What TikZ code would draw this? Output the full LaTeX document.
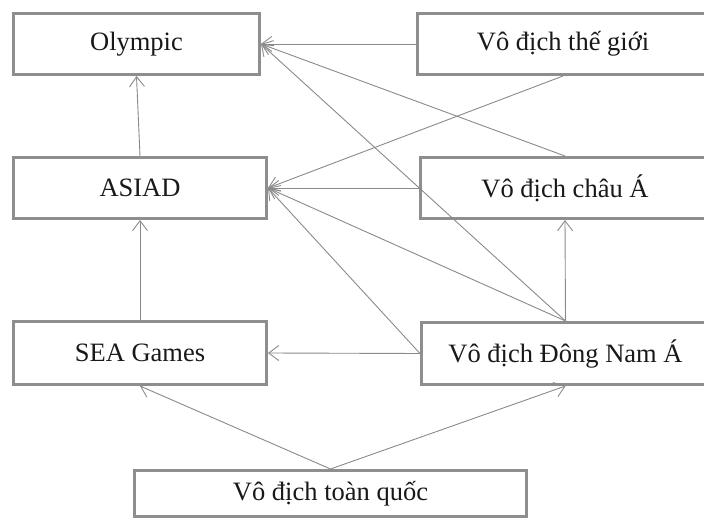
\documentclass[tikz,border=0pt]{standalone}
\usepackage{fontspec}
\setmainfont{Liberation Serif}
\usetikzlibrary{arrows.meta}
\definecolor{boxgray}{HTML}{8E8E8E}
\definecolor{linegray}{HTML}{8A8A8A}
\tikzset{
  lvl/.style={draw=boxgray, line width=3pt, fill=white, inner sep=0pt,
    font=\fontsize{26.5}{30}\selectfont, text=black!90},
  conn/.style={draw=linegray, line width=0.9pt,
    -{Straight Barb[length=10pt,width=15pt,line width=0.9pt]}},
}
\begin{document}
\begin{tikzpicture}[x=1pt,y=-1pt]
\clip (0,0) rectangle (704,518);
\fill[white] (0,0) rectangle (704,518);
\node[lvl, minimum width=246pt, minimum height=61pt] (oly) at (136.5,44) {Olympic};
\node[lvl, minimum width=253pt, minimum height=61pt] (asi) at (140,188) {ASIAD};
\node[lvl, minimum width=253pt, minimum height=63pt] (sea) at (140,353) {SEA Games};
\node[lvl, minimum width=392pt, minimum height=46pt] (tq) at (330.5,493.5) {Vô địch toàn quốc};
\node[lvl, minimum width=291pt, minimum height=61pt] (tg) at (563,44) {Vô địch thế giới};
\node[lvl, minimum width=289pt, minimum height=61pt] (ca) at (565,188) {Vô địch châu Á};
\node[lvl, minimum width=288pt, minimum height=62pt] (dna) at (565.5,353.5) {Vô địch Đông Nam Á};

\draw[conn] (tg.west) -- (oly.east);
\draw[conn] (tg.south) -- (asi.east);
\draw[conn] (ca.north) -- (oly.east);
\draw[conn] (ca.west) -- (asi.east);
\draw[conn] (dna.north) -- (oly.east);
\draw[conn] (dna.north) -- (asi.east);
\draw[conn] (dna.west) -- (asi.east);
\draw[conn] (dna.north) -- (ca.south);
\draw[conn] (dna.west) -- (sea.east);
\draw[conn] (sea.north) -- (asi.south);
\draw[conn] (asi.north) -- (oly.south);
\draw[conn] (tq.north) -- (sea.south);
\draw[conn] (tq.north) -- (dna.south);
\end{tikzpicture}
\end{document}
